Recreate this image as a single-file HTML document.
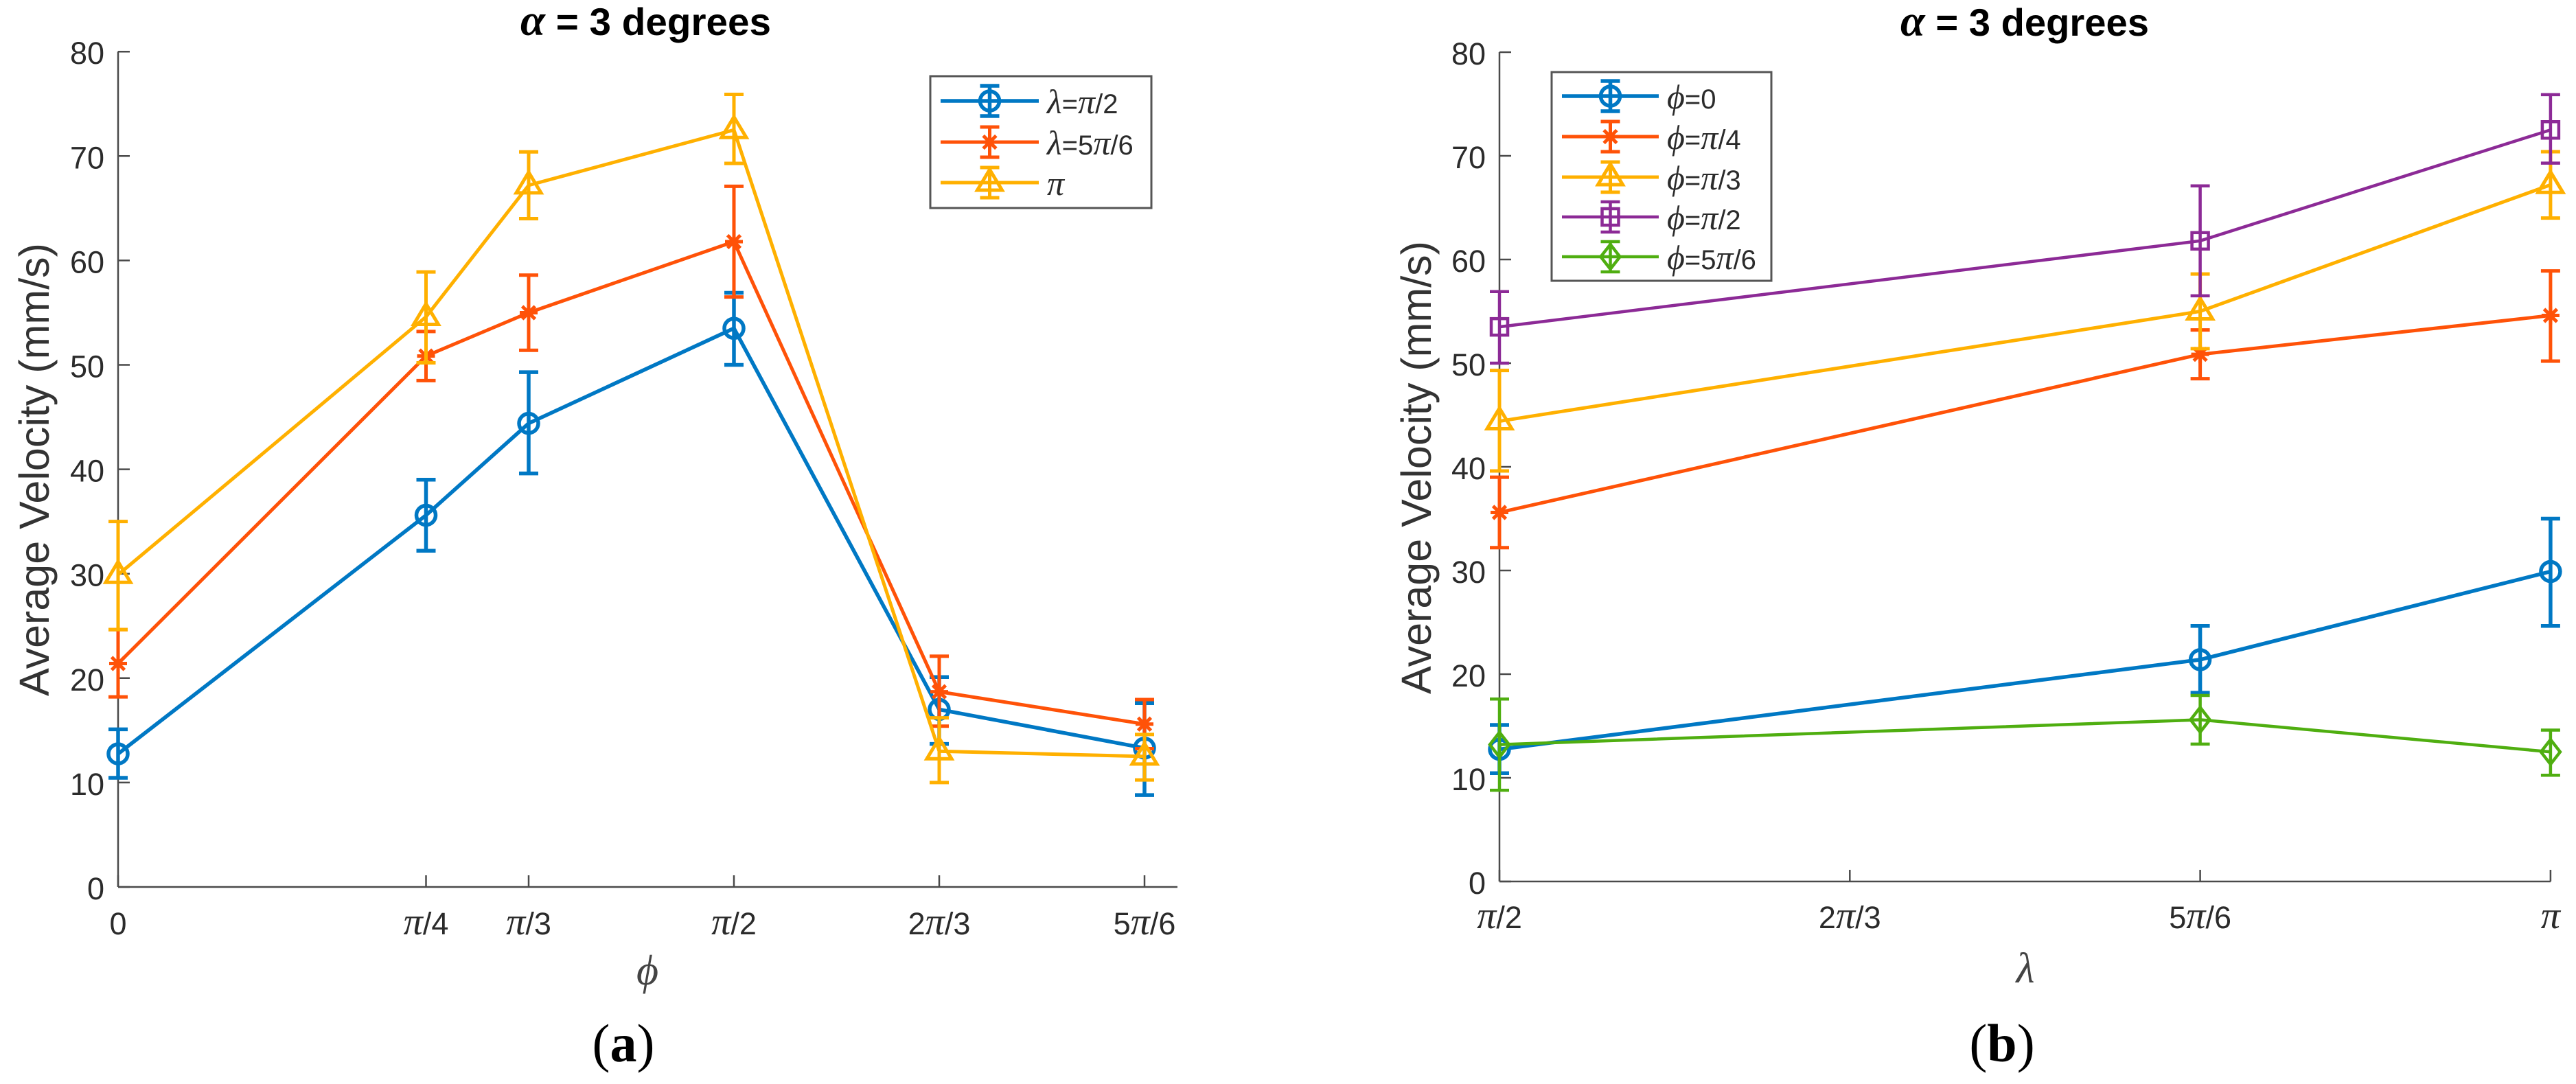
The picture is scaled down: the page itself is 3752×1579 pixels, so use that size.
<!DOCTYPE html>
<html lang="en">
<head>
<meta charset="utf-8">
<title>Average velocity versus phi and lambda</title>
<style>
  html, body { margin: 0; padding: 0; background: #fff; }
  #figure { display: block; width: 3752px; height: 1579px; }
  text { font-family: "Liberation Sans", sans-serif; fill: #2b2b2b; }
  .greek { font-family: "Liberation Serif", "DejaVu Serif", serif; font-style: italic; font-size: 1.25em; }
  .axis-greek { font-family: "Liberation Serif", "DejaVu Serif", serif; font-style: italic; }
  .alpha { font-family: "Liberation Serif", "DejaVu Serif", serif; font-style: italic; font-size: 1.15em; }
  .serif { font-family: "Liberation Serif", serif; fill: #000; }
</style>
</head>
<body>
<svg id="figure" xmlns="http://www.w3.org/2000/svg" width="3752" height="1579" viewBox="0 0 3752 1579">
  <rect x="0" y="0" width="3752" height="1579" fill="#fff"/>

  <g id="panel-a">
    <text x="758" y="51" font-size="56" font-weight="bold" textLength="365" lengthAdjust="spacingAndGlyphs" style="fill:#000"><tspan class="alpha">α</tspan> = 3 degrees</text>
    <text transform="translate(71 684) rotate(-90)" text-anchor="middle" font-size="61" style="fill:#333">Average Velocity (mm/s)</text>
    <text class="axis-greek" x="943" y="1434" text-anchor="middle" font-size="62" style="fill:#444">ϕ</text>
    <text class="serif" x="908" y="1546" text-anchor="middle" font-size="78">(<tspan font-weight="bold">a</tspan>)</text>
  </g>

  <g id="panel-b">
    <text x="2768" y="52" font-size="56" font-weight="bold" textLength="362" lengthAdjust="spacingAndGlyphs" style="fill:#000"><tspan class="alpha">α</tspan> = 3 degrees</text>
    <text transform="translate(2084 681) rotate(-90)" text-anchor="middle" font-size="61" style="fill:#333">Average Velocity (mm/s)</text>
    <text class="axis-greek" x="2950" y="1431" text-anchor="middle" font-size="62" style="fill:#444">λ</text>
    <text class="serif" x="2916" y="1546" text-anchor="middle" font-size="78">(<tspan font-weight="bold">b</tspan>)</text>
  </g>
</svg>

<script>
// Shared y axis
const yTickValues = [0, 10, 20, 30, 40, 50, 60, 70, 80];

// Panel (a): x positions in units of pi/6
const aTickValues = [0, 1.5, 2, 3, 4, 5];
const aTickLabels = ['0', 'π/4', 'π/3', 'π/2', '2π/3', '5π/6'];
const aLambdaHalfPi = [12.75, 35.6, 44.4, 53.5, 17.0, 13.3];
const aLambdaHalfPiUpper = [15.1, 39.0, 49.3, 56.9, 20.1, 17.6];
const aLambdaHalfPiLower = [10.45, 32.2, 39.6, 50.0, 13.7, 8.8];
const aLambdaFivePi = [21.4, 50.85, 55.0, 61.8, 18.7, 15.6];
const aLambdaFivePiUpper = [24.65, 53.2, 58.6, 67.1, 22.1, 17.95];
const aLambdaFivePiLower = [18.2, 48.5, 51.4, 56.5, 15.4, 13.25];
const aLambdaPi = [29.9, 54.6, 67.2, 72.5, 13.0, 12.5];
const aLambdaPiUpper = [35.0, 58.9, 70.4, 75.9, 16.2, 14.6];
const aLambdaPiLower = [24.65, 50.2, 64.0, 69.3, 10.0, 10.25];

// Panel (b): x positions in units of pi/6
const bTickValues = [3, 4, 5, 6];
const bTickLabels = ['π/2', '2π/3', '5π/6', 'π'];
const bCategories = [3, 5, 6];
const bPhiZero = [12.75, 21.4, 29.9];
const bPhiZeroUpper = [15.1, 24.65, 35.0];
const bPhiZeroLower = [10.45, 18.2, 24.65];
const bPhiQuarter = [35.6, 50.85, 54.6];
const bPhiQuarterUpper = [39.0, 53.2, 58.9];
const bPhiQuarterLower = [32.2, 48.5, 50.2];
const bPhiThird = [44.4, 55.0, 67.2];
const bPhiThirdUpper = [49.3, 58.6, 70.4];
const bPhiThirdLower = [39.6, 51.4, 64.0];
const bPhiHalf = [53.5, 61.8, 72.5];
const bPhiHalfUpper = [56.9, 67.1, 75.9];
const bPhiHalfLower = [50.0, 56.5, 69.3];
const bPhiFiveSixth = [13.2, 15.6, 12.5];
const bPhiFiveSixthUpper = [17.6, 17.95, 14.6];
const bPhiFiveSixthLower = [8.8, 13.25, 10.25];

const NS = 'http://www.w3.org/2000/svg';
const BLUE = '#0078c4', ORANGE = '#ff5208', YELLOW = '#ffb000', PURPLE = '#8c2a96', GREEN = '#4fae10';

function make(parent, tag, attrs) {
  const el = document.createElementNS(NS, tag);
  for (const k in attrs) el.setAttribute(k, attrs[k]);
  parent.appendChild(el);
  return el;
}

function tag(el, name) {
  
  
  return el;
}

function richText(parent, str, attrs) {
  const t = make(parent, 'text', attrs);
  str.split(/([πλϕ])/).forEach(function (part) {
    if (!part) return;
    if (/[πλϕ]/.test(part)) {
      const s = make(t, 'tspan', { class: 'greek' });
      s.textContent = part;
    } else {
      t.appendChild(document.createTextNode(part));
    }
  });
  return t;
}

function drawMarker(parent, kind, x, y, color, sw) {
  const g = make(parent, 'g', { fill: 'none', stroke: color, 'stroke-width': sw, 'stroke-linejoin': 'miter' });
  tag(g, kind + '-marker');
  if (kind === 'circle') {
    make(g, 'circle', { cx: x, cy: y, r: 14 });
  } else if (kind === 'star') {
    const r = 13, d = r * 0.72;
    make(g, 'path', { d: 'M' + x + ' ' + (y - r) + 'V' + (y + r) +
      'M' + (x - r) + ' ' + y + 'H' + (x + r) +
      'M' + (x - d) + ' ' + (y - d) + 'L' + (x + d) + ' ' + (y + d) +
      'M' + (x - d) + ' ' + (y + d) + 'L' + (x + d) + ' ' + (y - d) });
  } else if (kind === 'triangle') {
    make(g, 'path', { d: 'M' + x + ' ' + (y - 19) + 'L' + (x + 18) + ' ' + (y + 11) + 'H' + (x - 18) + 'Z' });
  } else if (kind === 'square') {
    make(g, 'rect', { x: x - 12, y: y - 12, width: 24, height: 24 });
  } else if (kind === 'diamond') {
    make(g, 'path', { d: 'M' + x + ' ' + (y - 18) + 'L' + (x + 14) + ' ' + y + 'L' + x + ' ' + (y + 18) + 'L' + (x - 14) + ' ' + y + 'Z' });
  }
}

function drawAxes(root, prefix, box, xScale, yScale, xTicks, xLabels, yLabelRight, xLabelBase) {
  const axis = make(root, 'g', { stroke: '#4a4a4a', 'stroke-width': 2.5, fill: 'none' });
  tag(axis, prefix + '-axes');
  tag(make(axis, 'line', { x1: box.left, x2: box.left, y1: box.top, y2: box.bottom }), prefix + '-y-axis-line');
  tag(make(axis, 'line', { x1: box.left, x2: box.right, y1: box.bottom, y2: box.bottom }), prefix + '-x-axis-line');
  yTickValues.forEach(function (v) {
    const y = yScale(v);
    tag(make(axis, 'line', { x1: box.left, x2: box.left + 17, y1: y, y2: y }), prefix + '-y-tick');
    const t = make(root, 'text', { x: yLabelRight, y: y + 18, 'text-anchor': 'end', 'font-size': 45 });
    t.textContent = String(v);
    tag(t, prefix + '-y-tick-label');
  });
  xTicks.forEach(function (v, i) {
    const x = xScale(v);
    tag(make(axis, 'line', { x1: x, x2: x, y1: box.bottom, y2: box.bottom - 17 }), prefix + '-x-tick');
    const t = richText(root, xLabels[i], { x: x, y: xLabelBase, 'text-anchor': 'middle', 'font-size': 45 });
    tag(t, prefix + '-x-tick-label');
  });
}

function drawSeries(root, name, xs, vals, upper, lower, xScale, yScale, style) {
  const g = make(root, 'g', { fill: 'none', stroke: style.color });
  tag(g, name);
  const pts = vals.map(function (v, i) { return xScale(xs[i]) + ',' + yScale(v); }).join(' ');
  tag(make(g, 'polyline', { points: pts, 'stroke-width': style.width, 'stroke-linejoin': 'miter' }), name + '-line');
  vals.forEach(function (v, i) {
    const x = xScale(xs[i]), t = yScale(upper[i]), b = yScale(lower[i]);
    const err = make(g, 'path', {
      'stroke-width': style.width,
      d: 'M' + x + ' ' + t + 'V' + b + 'M' + (x - 14) + ' ' + t + 'H' + (x + 14) + 'M' + (x - 14) + ' ' + b + 'H' + (x + 14)
    });
    tag(err, name + '-error-bar');
    drawMarker(g, style.marker, x, yScale(v), style.color, style.width);
  });
}

function drawLegend(root, prefix, box, entries) {
  const g = make(root, 'g', {});
  tag(g, prefix + '-legend');
  tag(make(g, 'rect', { x: box.x, y: box.y, width: box.w, height: box.h, fill: '#fff', stroke: '#555', 'stroke-width': 3 }), prefix + '-legend-box');
  entries.forEach(function (e) {
    const row = make(g, 'g', { fill: 'none', stroke: e.color });
    tag(row, 'legend-entry');
    make(row, 'line', { x1: box.lineL, x2: box.lineR, y1: e.y, y2: e.y, 'stroke-width': e.width });
    const c = (box.lineL + box.lineR) / 2;
    make(row, 'path', {
      'stroke-width': e.width,
      d: 'M' + c + ' ' + (e.y - 22) + 'V' + (e.y + 22) + 'M' + (c - 14) + ' ' + (e.y - 22) + 'H' + (c + 14) + 'M' + (c - 14) + ' ' + (e.y + 22) + 'H' + (c + 14)
    });
    drawMarker(row, e.marker, c, e.y, e.color, e.width);
    const label = richText(g, e.label, { x: box.textX, y: e.y + 18, 'font-size': 40 });
    tag(label, 'legend-label');
  });
}

// Panel (a)
const aBox = { left: 172, right: 1715, top: 75, bottom: 1292 };
const ax = function (v) { return 172 + v * 299; };
const ay = function (v) { return 1292 - v * 15.21; };
const panelA = document.getElementById('panel-a');
drawAxes(panelA, 'panel-a', aBox, ax, ay, aTickValues, aTickLabels, 152, 1361);
drawSeries(panelA, 'series-lambda-half-pi', aTickValues, aLambdaHalfPi, aLambdaHalfPiUpper, aLambdaHalfPiLower, ax, ay, { color: BLUE, width: 5.5, marker: 'circle' });
drawSeries(panelA, 'series-lambda-five-sixth-pi', aTickValues, aLambdaFivePi, aLambdaFivePiUpper, aLambdaFivePiLower, ax, ay, { color: ORANGE, width: 5, marker: 'star' });
drawSeries(panelA, 'series-lambda-pi', aTickValues, aLambdaPi, aLambdaPiUpper, aLambdaPiLower, ax, ay, { color: YELLOW, width: 5, marker: 'triangle' });
drawLegend(panelA, 'panel-a', { x: 1355, y: 111, w: 322, h: 192, lineL: 1370, lineR: 1513, textX: 1525 }, [
  { y: 147, color: BLUE, width: 5.5, marker: 'circle', label: 'λ=π/2' },
  { y: 207, color: ORANGE, width: 5, marker: 'star', label: 'λ=5π/6' },
  { y: 266, color: YELLOW, width: 5, marker: 'triangle', label: 'π' }
]);

// Panel (b)
const bBox = { left: 2184, right: 3715, top: 76, bottom: 1284 };
const bx = function (v) { return 2184 + (v - 3) * 510.3; };
const by = function (v) { return 1284 - v * 15.1; };
const panelB = document.getElementById('panel-b');
drawAxes(panelB, 'panel-b', bBox, bx, by, bTickValues, bTickLabels, 2164, 1352);
drawSeries(panelB, 'series-phi-zero', bCategories, bPhiZero, bPhiZeroUpper, bPhiZeroLower, bx, by, { color: BLUE, width: 5.5, marker: 'circle' });
drawSeries(panelB, 'series-phi-quarter-pi', bCategories, bPhiQuarter, bPhiQuarterUpper, bPhiQuarterLower, bx, by, { color: ORANGE, width: 5, marker: 'star' });
drawSeries(panelB, 'series-phi-third-pi', bCategories, bPhiThird, bPhiThirdUpper, bPhiThirdLower, bx, by, { color: YELLOW, width: 5, marker: 'triangle' });
drawSeries(panelB, 'series-phi-half-pi', bCategories, bPhiHalf, bPhiHalfUpper, bPhiHalfLower, bx, by, { color: PURPLE, width: 4.5, marker: 'square' });
drawSeries(panelB, 'series-phi-five-sixth-pi', bCategories, bPhiFiveSixth, bPhiFiveSixthUpper, bPhiFiveSixthLower, bx, by, { color: GREEN, width: 4.5, marker: 'diamond' });
drawLegend(panelB, 'panel-b', { x: 2260, y: 105, w: 320, h: 304, lineL: 2275, lineR: 2416, textX: 2428 }, [
  { y: 140, color: BLUE, width: 5.5, marker: 'circle', label: 'ϕ=0' },
  { y: 199, color: ORANGE, width: 5, marker: 'star', label: 'ϕ=π/4' },
  { y: 258, color: YELLOW, width: 5, marker: 'triangle', label: 'ϕ=π/3' },
  { y: 316, color: PURPLE, width: 4.5, marker: 'square', label: 'ϕ=π/2' },
  { y: 374, color: GREEN, width: 4.5, marker: 'diamond', label: 'ϕ=5π/6' }
]);
</script>
</body>
</html>
